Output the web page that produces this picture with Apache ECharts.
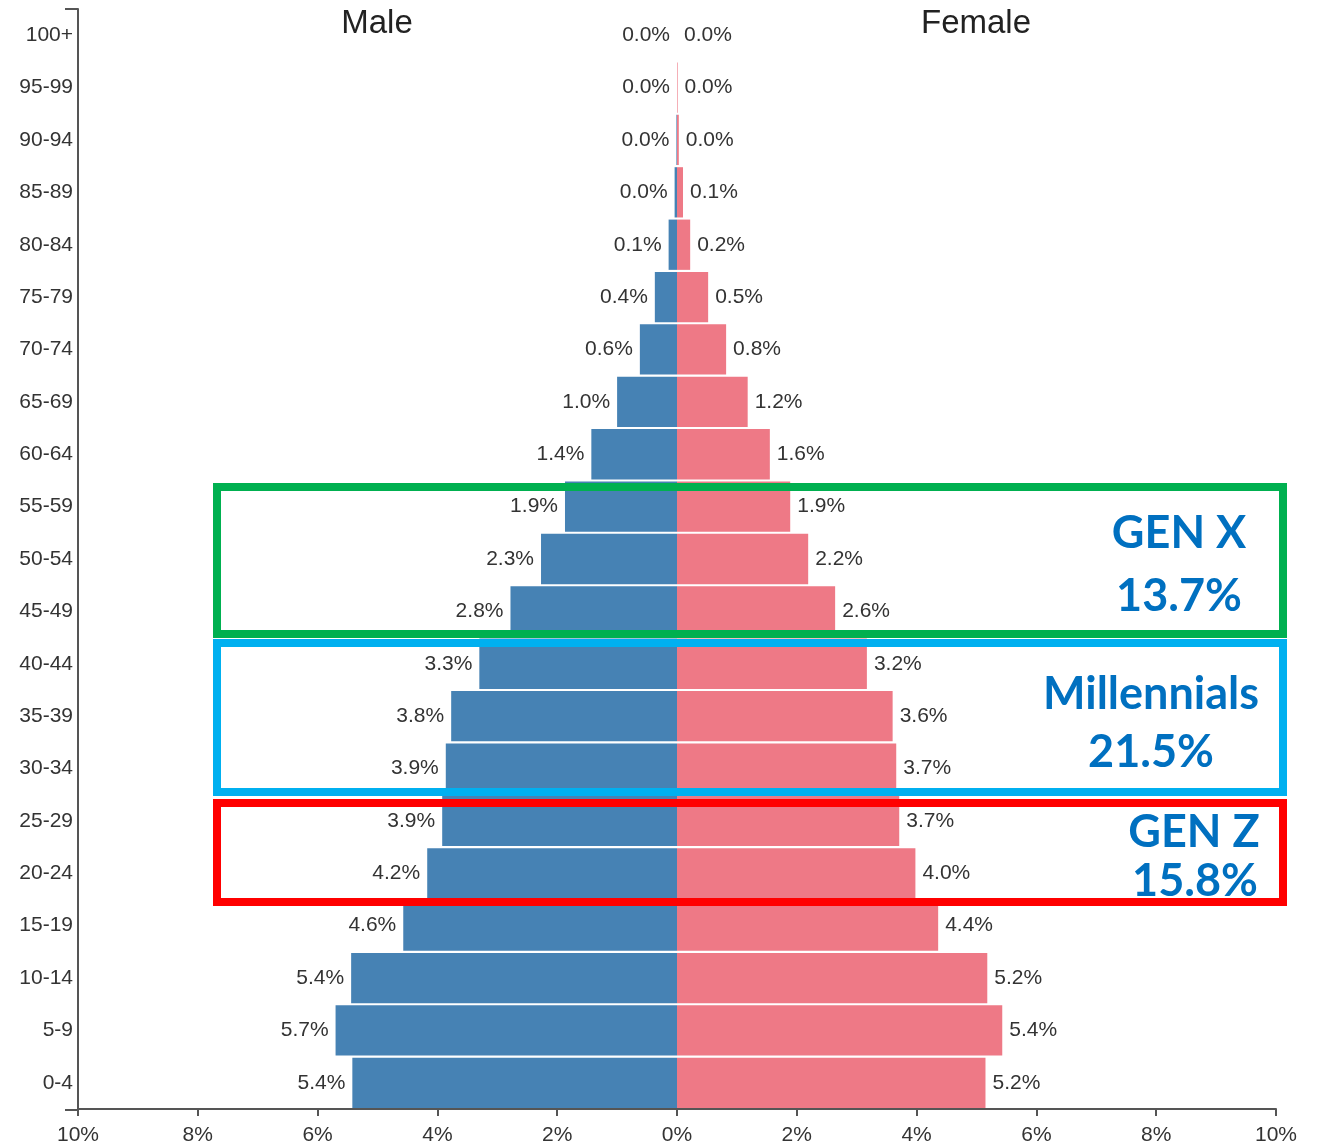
<!DOCTYPE html>
<html>
<head>
<meta charset="utf-8">
<script src="https://cdn.jsdelivr.net/npm/echarts@6/dist/echarts.min.js"></script>
<style>
  html, body { margin: 0; padding: 0; background: #fff; }
  #chart { width: 1317px; height: 1146px; }
</style>
</head>
<body>
<div id="chart"></div>
<script>
// age groups, bottom to top
const ageGroups = ['0-4', '5-9', '10-14', '15-19', '20-24', '25-29', '30-34', '35-39', '40-44', '45-49',
  '50-54', '55-59', '60-64', '65-69', '70-74', '75-79', '80-84', '85-89', '90-94', '95-99', '100+']

// % of population
const maleShare = [5.42, 5.70, 5.44, 4.57, 4.17, 3.92, 3.86, 3.77, 3.30, 2.78,
  2.27, 1.87, 1.43, 1.00, 0.62, 0.37, 0.14, 0.04, 0.01, 0.0, 0.0]
const femaleShare = [5.15, 5.43, 5.18, 4.36, 3.98, 3.71, 3.66, 3.60, 3.17, 2.64,
  2.19, 1.89, 1.55, 1.18, 0.82, 0.52, 0.22, 0.10, 0.03, 0.01, 0.0]

const xTicks = [-10, -8, -6, -4, -2, 0, 2, 4, 6, 8, 10]

// generation call-outs
const genNames = ['GEN X', 'Millennials', 'GEN Z']
const genTotals = ['13.7%', '21.5%', '15.8%']

const textFont = '"Liberation Sans", Arial, sans-serif'
const calloutFont = 'Lato, "Open Sans", sans-serif'

const chart = echarts.init(document.getElementById('chart'))

const pct = v => Math.abs(v).toFixed(1) + '%'

const labelStyle = {
  show: true,
  fontFamily: textFont,
  fontSize: 21,
  color: '#333',
  distance: 7,
  padding: [4, 0, 0, 0],
  formatter: p => pct(p.value),
}

// boxes: [top, bottom, color]
const boxes = [
  [487, 634, '#00B050'],
  [643, 792, '#00B0F0'],
  [803, 902, '#FF0000'],
]

const graphics = []
boxes.forEach(b => {
  graphics.push({
    type: 'rect',
    z: 100,
    shape: { x: 217, y: b[0], width: 1283 - 217, height: b[1] - b[0] },
    style: { fill: 'none', stroke: b[2], lineWidth: 8 },
  })
})

const calloutText = (text, x, y) => ({
  type: 'text',
  z: 110,
  x: x,
  y: y,
  style: {
    text: text,
    fill: '#0070C0',
    font: 'bold 45px ' + calloutFont,
    textAlign: 'center',
    textVerticalAlign: 'middle',
  },
})
graphics.push(calloutText(genNames[0], 1179, 533))
graphics.push(calloutText(genTotals[0], 1179, 596))
graphics.push(calloutText(genNames[1], 1151, 694))
graphics.push(calloutText(genTotals[1], 1151, 752))
graphics.push(calloutText(genNames[2], 1194, 832))
graphics.push(calloutText(genTotals[2], 1195, 881))

// Male / Female headers
graphics.push({
  type: 'text', x: 377, y: 24,
  style: { text: 'Male', fill: '#222', font: '33px ' + textFont, textAlign: 'center', textVerticalAlign: 'middle' },
})
graphics.push({
  type: 'text', x: 976, y: 24,
  style: { text: 'Female', fill: '#222', font: '33px ' + textFont, textAlign: 'center', textVerticalAlign: 'middle' },
})

// outer ticks of the age axis
graphics.push({
  type: 'polyline',
  shape: { points: [[65, 9], [78, 9]] },
  style: { stroke: '#555', lineWidth: 2 },
})
graphics.push({
  type: 'polyline',
  shape: { points: [[65, 1110], [78, 1110]] },
  style: { stroke: '#555', lineWidth: 2 },
})

const option = {
  animation: false,
  backgroundColor: '#fff',
  grid: {
    left: 78,
    right: 41,
    top: 9,
    bottom: 36,
  },
  xAxis: {
    type: 'value',
    min: -10,
    max: 10,
    interval: 2,
    splitLine: { show: false },
    axisLine: { show: true, lineStyle: { color: '#555', width: 2 } },
    axisTick: { show: true, length: 7, lineStyle: { color: '#555', width: 2 } },
    axisLabel: {
      margin: 16,
      fontFamily: textFont,
      fontSize: 21,
      color: '#333',
      customValues: xTicks,
      formatter: v => Math.abs(v) + '%',
    },
  },
  yAxis: {
    type: 'category',
    data: ageGroups,
    axisLine: { show: true, onZero: false, lineStyle: { color: '#555', width: 2 } },
    axisTick: { show: false },
    axisLabel: {
      margin: 5,
      padding: [4, 0, 0, 0],
      fontFamily: textFont,
      fontSize: 21,
      color: '#333',
    },
  },
  series: [
    {
      name: 'Male',
      type: 'bar',
      stack: 'pop',
      barCategoryGap: '4%',
      itemStyle: { color: '#4682B4' },
      label: Object.assign({ position: 'left' }, labelStyle),
      data: maleShare.map(v => -v),
    },
    {
      name: 'Female',
      type: 'bar',
      stack: 'pop',
      barCategoryGap: '4%',
      itemStyle: { color: '#EE7986' },
      label: Object.assign({ position: 'right' }, labelStyle),
      data: femaleShare,
    },
  ],
  graphic: graphics,
}

chart.setOption(option)
</script>
</body>
</html>
